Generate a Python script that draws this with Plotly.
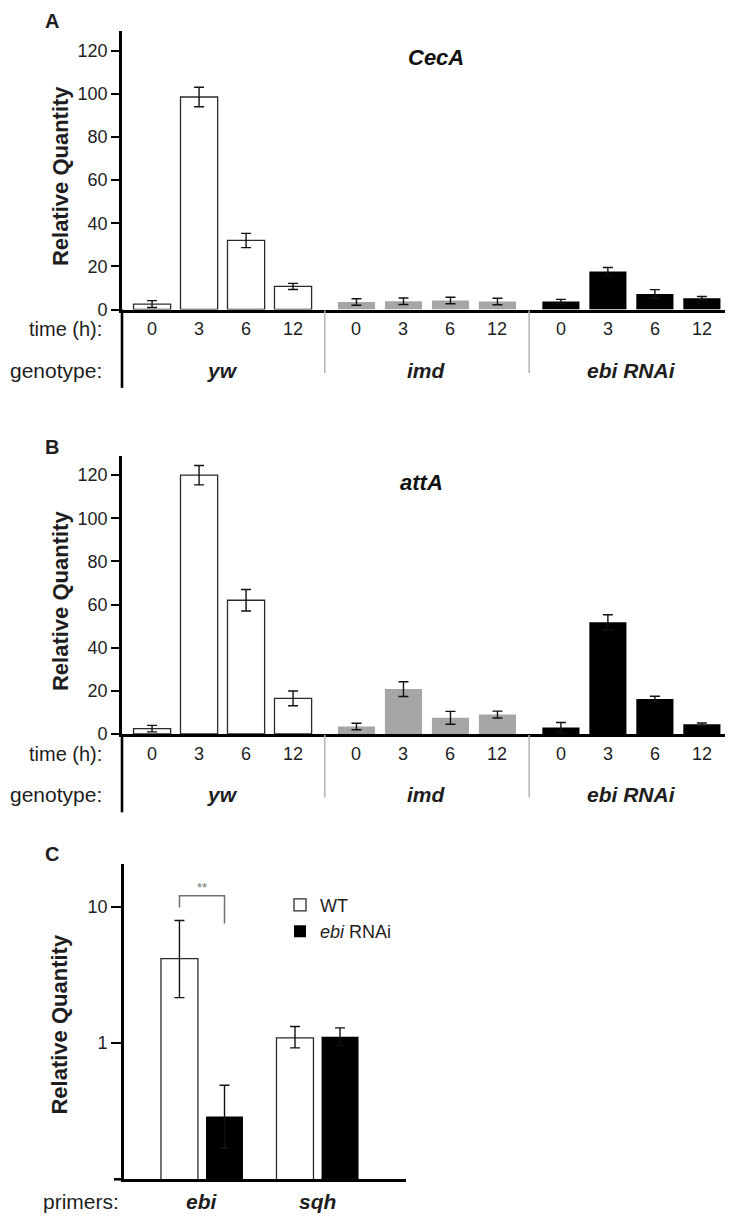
import plotly.graph_objects as go

# ---------------- data ----------------
times = ["0", "3", "6", "12"]
genotypes = ["yw", "imd", "ebi RNAi"]
geno_colors = ["#ffffff", "#a6a6a6", "#000000"]

cecA_yw = [2.5, 98.5, 32.0, 10.7]
cecA_imd = [3.5, 3.8, 4.2, 3.7]
cecA_ebi = [3.7, 17.6, 7.2, 5.2]
cecA_yw_err = [1.6, 4.5, 3.3, 1.4]
cecA_imd_err = [1.5, 1.5, 1.5, 1.5]
cecA_ebi_err = [1.0, 1.9, 2.0, 0.8]

attA_yw = [2.5, 120.0, 62.0, 16.5]
attA_imd = [3.5, 20.8, 7.5, 9.0]
attA_ebi = [3.0, 51.8, 16.2, 4.5]
attA_yw_err = [1.5, 4.5, 5.0, 3.4]
attA_imd_err = [1.5, 3.4, 3.0, 1.6]
attA_ebi_err = [2.3, 3.5, 1.3, 0.6]

primers = ["ebi", "sqh"]
wt_vals = [4.15, 1.09]
wt_err_plus = [3.75, 0.23]
wt_err_minus = [2.0, 0.17]
rnai_vals = [0.289, 1.11]
rnai_err_plus = [0.2, 0.18]
rnai_err_minus = [0.12, 0.15]

# ---------------- layout helpers ----------------
W, H = 733, 1217
FONT = "Liberation Sans, Arial, sans-serif"
TXT = "#1e1e1e"


def px(p):
    return p / W


def py(p):
    return 1 - p / H


GAP = 0.35  # extra spacing between genotype groups (in bar units)


def xpos(g, i):
    return g * (4 + GAP) + i


fig = go.Figure()

panels = [
    dict(name="A", gene="CecA", xa="x", ya="y", xaxis="xaxis", yaxis="yaxis",
         top=23, base=304,
         vals=[cecA_yw, cecA_imd, cecA_ebi], errs=[cecA_yw_err, cecA_imd_err, cecA_ebi_err],
         title_xy=(428, 50)),
    dict(name="B", gene="attA", xa="x2", ya="y2", xaxis="xaxis2", yaxis="yaxis2",
         top=452, base=732,
         vals=[attA_yw, attA_imd, attA_ebi], errs=[attA_yw_err, attA_imd_err, attA_ebi_err],
         title_xy=(413, 478)),
]

annotations = []
shapes = []

for p in panels:
    for g in range(3):
        fig.add_trace(go.Bar(
            x=[xpos(g, i) for i in range(4)],
            y=p["vals"][g],
            width=0.79,
            marker=dict(color=geno_colors[g],
                        line=dict(color="#2a2a2a" if g == 0 else geno_colors[g], width=1.3 if g == 0 else 0)),
            error_y=dict(type="data", array=p["errs"][g], color="#111111", thickness=1.4, width=5),
            xaxis=p["xa"], yaxis=p["ya"], showlegend=False,
        ))
    fig.update_layout({
        p["xaxis"]: dict(domain=[px(114), px(731)], range=[-0.64, 12.49],
                         showline=True, linewidth=2.6, linecolor="black",
                         showticklabels=False, ticks="", showgrid=False, zeroline=False,
                         anchor=p["ya"]),
        p["yaxis"]: dict(domain=[py(p["base"]), py(p["top"])],
                         range=[0, (p["base"] - p["top"]) / 2.175],
                         tickvals=[0, 20, 40, 60, 80, 100, 120],
                         ticks="outside", ticklen=8, tickwidth=1.5, tickcolor="black",
                         showline=True, linewidth=2.6, linecolor="black",
                         showgrid=False, zeroline=False,
                         tickfont=dict(family=FONT, size=18, color=TXT),
                         anchor=p["xa"]),
    })
    b = p["base"]
    # y-axis extension under the x axis
    shapes.append(dict(type="line", xref="paper", yref="paper",
                       x0=px(114), x1=px(114), y0=py(b), y1=py(b + 79),
                       line=dict(color="black", width=2.6)))
    # group separators
    for sx in [3.675, 8.025, 12.45]:
        shapes.append(dict(type="line", xref=p["xa"], yref="paper",
                           x0=sx, x1=sx, y0=py(b + 1), y1=py(b + 64),
                           line=dict(color="#b5b5b5", width=1.5)))
    # time labels
    for g in range(3):
        for i, t in enumerate(times):
            annotations.append(dict(xref=p["xa"], yref="paper", x=xpos(g, i), y=py(b + 20),
                                    text=t, showarrow=False, xanchor="center", yanchor="middle",
                                    font=dict(family=FONT, size=18, color=TXT)))
        annotations.append(dict(xref=p["xa"], yref="paper", x=xpos(g, 1.5), y=py(b + 61),
                                text="<b><i>%s</i></b>" % genotypes[g], showarrow=False,
                                xanchor="center", yanchor="middle",
                                font=dict(family=FONT, size=21, color=TXT)))
    annotations.append(dict(xref="paper", yref="paper", x=px(96), y=py(b + 20), text="time (h):",
                            showarrow=False, xanchor="right", yanchor="middle",
                            font=dict(family=FONT, size=20, color=TXT)))
    annotations.append(dict(xref="paper", yref="paper", x=px(96), y=py(b + 61), text="genotype:",
                            showarrow=False, xanchor="right", yanchor="middle",
                            font=dict(family=FONT, size=21, color=TXT)))
    # y title
    annotations.append(dict(xref="paper", yref="paper", x=px(52), y=py((p["top"] + b) / 2 + 6),
                            text="<b>Relative Quantity</b>", textangle=-90, showarrow=False,
                            xanchor="center", yanchor="middle",
                            font=dict(family=FONT, size=22, color=TXT)))
    # gene title
    tx, ty = p["title_xy"]
    annotations.append(dict(xref="paper", yref="paper", x=px(tx), y=py(ty),
                            text="<b><i>%s</i></b>" % p["gene"], showarrow=False,
                            xanchor="center", yanchor="middle",
                            font=dict(family=FONT, size=22, color="#111111")))

# panel letters
for letter, yy in [("A", 13), ("B", 443), ("C", 853)]:
    annotations.append(dict(xref="paper", yref="paper", x=px(44), y=py(yy), text="<b>%s</b>" % letter,
                            showarrow=False, xanchor="center", yanchor="middle",
                            font=dict(family=FONT, size=20, color=TXT)))

# ---------------- panel C ----------------
OFF = 0.195
fig.add_trace(go.Bar(
    x=[i - OFF for i in range(len(primers))], y=wt_vals, width=0.32, name="WT",
    marker=dict(color="white", line=dict(color="#2a2a2a", width=1.3)),
    error_y=dict(type="data", symmetric=False, array=wt_err_plus, arrayminus=wt_err_minus,
                 color="#111111", thickness=1.4, width=5),
    xaxis="x3", yaxis="y3", showlegend=True,
))
fig.add_trace(go.Bar(
    x=[i + OFF for i in range(len(primers))], y=rnai_vals, width=0.32, name="<i>ebi</i> RNAi",
    marker=dict(color="black", line=dict(color="black", width=0)),
    error_y=dict(type="data", symmetric=False, array=rnai_err_plus, arrayminus=rnai_err_minus,
                 color="#111111", thickness=1.4, width=5),
    xaxis="x3", yaxis="y3", showlegend=True,
))
fig.update_layout(
    xaxis3=dict(domain=[px(116), px(398)], range=[-0.675, 1.766],
                showline=True, linewidth=2.6, linecolor="black",
                showticklabels=False, ticks="", showgrid=False, zeroline=False, anchor="y3"),
    yaxis3=dict(domain=[py(1181), py(863)], type="log", range=[-1, 1.313],
                tickvals=[1, 10], ticktext=["1", "10"],
                ticks="outside", ticklen=10, tickwidth=1.5, tickcolor="black",
                showline=True, linewidth=2.6, linecolor="black",
                showgrid=False, zeroline=False,
                tickfont=dict(family=FONT, size=18, color=TXT), anchor="x3"),
)
shapes.append(dict(type="line", xref="paper", yref="paper", x0=px(106), x1=px(116),
                   y0=py(1181), y1=py(1181), line=dict(color="black", width=2.6)))
# significance bracket between WT and ebi RNAi for the ebi primers
x_l = 0 - OFF
x_r = 0 + OFF
shapes.append(dict(type="path", xref="x3", yref="paper",
                   path="M %f,%f L %f,%f L %f,%f L %f,%f" % (x_l, py(907), x_l, py(895), x_r, py(895), x_r, py(923)),
                   line=dict(color="#707070", width=1.5)))
annotations.append(dict(xref="x3", yref="paper", x=0, y=py(887), text="**", showarrow=False,
                        xanchor="center", yanchor="middle",
                        font=dict(family=FONT, size=13, color="#777777")))
for i, pr in enumerate(primers):
    annotations.append(dict(xref="x3", yref="paper", x=i, y=py(1203), text="<b><i>%s</i></b>" % pr,
                            showarrow=False, xanchor="center", yanchor="middle",
                            font=dict(family=FONT, size=21, color=TXT)))
annotations.append(dict(xref="paper", yref="paper", x=px(113), y=py(1203), text="primers:",
                        showarrow=False, xanchor="right", yanchor="middle",
                        font=dict(family=FONT, size=21, color=TXT)))
annotations.append(dict(xref="paper", yref="paper", x=px(52), y=py(1025),
                        text="<b>Relative Quantity</b>", textangle=-90, showarrow=False,
                        xanchor="center", yanchor="middle",
                        font=dict(family=FONT, size=22, color=TXT)))

fig.update_layout(
    width=W, height=H, autosize=False,
    margin=dict(l=0, r=0, t=0, b=0),
    paper_bgcolor="white", plot_bgcolor="rgba(0,0,0,0)",
    barmode="overlay",
    showlegend=True,
    legend=dict(x=px(272), y=py(886), xanchor="left", yanchor="top",
                bgcolor="rgba(0,0,0,0)", font=dict(family=FONT, size=18, color=TXT),
                tracegroupgap=0, itemwidth=30),
    annotations=annotations,
    shapes=shapes,
)

fig.write_html("out.html")
